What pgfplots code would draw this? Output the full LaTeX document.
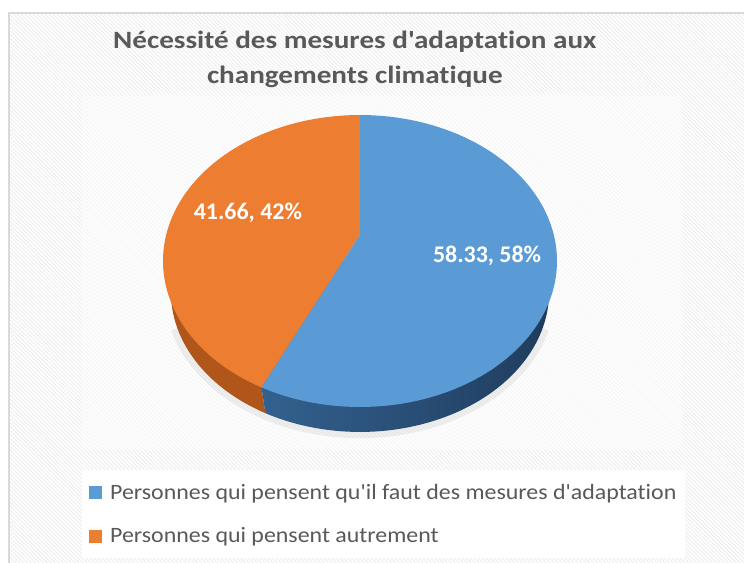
\documentclass[border=0pt]{standalone}
\usepackage{pgfplots}
\pgfplotsset{compat=1.18}
\usepackage{pgfplotstable}
\usepackage{fontspec}
\setmainfont{Carlito}
\newfontfamily\caltitle{Carlito}[Ligatures=NoCommon, FakeStretch=1.17]
\newfontfamily\callegend{Carlito}[Ligatures=NoCommon, FakeStretch=1.09]
\usetikzlibrary{patterns.meta}
\definecolor{pieblue}{HTML}{5B9BD5}
\definecolor{pieorange}{HTML}{ED7D31}
\definecolor{blueside}{HTML}{1F3B5C}
\definecolor{bluesideL}{HTML}{33618F}
\definecolor{orangeside}{HTML}{B0561B}
\definecolor{txtgray}{HTML}{595959}
\definecolor{framegray}{HTML}{D9D9D9}
\pgfplotstableread{
share value
oui 58.33
autre 41.66
}\piedata
\begin{document}
\begin{tikzpicture}
\useasboundingbox (0bp,0bp) rectangle (744bp,563bp);
\begin{scope}
\clip (0bp,0bp) rectangle (744bp,563bp);
\fill[white] (0bp,0bp) rectangle (744bp,563bp);
\fill[pattern={Lines[angle=-45,distance=2.8bp,line width=1.1bp]}, pattern color=black!6] (9bp,0bp) rectangle (744bp,550bp);
\fill[white, opacity=0.45] (82bp,113bp) rectangle (682bp,468bp);
\draw[framegray, line width=1.5bp] (9bp,-20bp) rectangle (770bp,550bp);
\end{scope}
\pgfplotstablegetelem{0}{value}\of\piedata \let\vA\pgfplotsretval
\pgfplotstablegetelem{1}{value}\of\piedata \let\vB\pgfplotsretval
\pgfmathsetmacro\angB{90+360*\vB/(\vA+\vB)}
\begin{axis}[
  at={(163bp,156bp)}, anchor=south west,
  width=394bp, height=292bp, scale only axis,
  xmin=-1, xmax=1, ymin=-1, ymax=1,
  hide axis, clip=false,
  title={Nécessité des mesures d'adaptation aux\\changements climatique},
  title style={at={(axis description cs:0.487,1.171)}, anchor=center, align=center,
    font=\caltitle\bfseries\fontsize{25}{35}\selectfont, text=txtgray},
  legend style={at={(axis description cs:-0.2056,-0.2158)}, anchor=north west,
    draw=none, fill=white, font=\callegend\fontsize{22}{26}\selectfont, text=txtgray,
    row sep=23bp, inner xsep=7bp, inner ysep=12bp},
  legend cell align=left,
]
% shadow
\addplot[forget plot, draw=black, draw opacity=0.06, line width=7bp, domain=195:345, samples=50, variable=\t]
  ({0.975*cos(\t)},{0.975*sin(\t)-0.215});
% sides
\addplot[forget plot, draw=none, fill=orangeside, domain=180:\angB, samples=40, variable=\t]
  ({0.96*cos(\t)},{0.96*sin(\t)-0.211}) -- ({cos(\angB)},{sin(\angB)}) -- (0,0) -- (-1,0) -- cycle;
\addplot[forget plot, draw=none, left color=bluesideL, right color=blueside, domain=\angB:360, samples=60, variable=\t]
  ({0.96*cos(\t)},{0.96*sin(\t)-0.211}) -- (1,0) -- (0,0) -- ({cos(\angB)},{sin(\angB)}) -- cycle;
% top faces
\addplot[forget plot, draw=none, fill=pieorange, domain=90:\angB, samples=80, variable=\t]
  ({cos(\t)},{sin(\t)}) -- (0,0.18) -- cycle;
\addplot[forget plot, draw=none, fill=pieblue, domain=\angB:450, samples=100, variable=\t]
  ({cos(\t)},{sin(\t)}) -- (0,0.18) -- cycle;
\node[font=\bfseries\fontsize{24}{28}\selectfont, text=white] at (axis cs:0.645,0.034) {58.33, 58\%};
\node[font=\bfseries\fontsize{24}{28}\selectfont, text=white] at (axis cs:-0.569,0.329) {41.66, 42\%};
\addlegendimage{legend image code/.code={\fill[pieblue, draw=none] (0bp,-6.5bp) rectangle (13bp,6.5bp); \path[draw=none, fill=none] (0bp,-1bp) rectangle (19bp,1bp);}}
\addlegendentry{Personnes qui pensent qu'il faut des mesures d'adaptation}
\addlegendimage{legend image code/.code={\fill[pieorange, draw=none] (0bp,-6.5bp) rectangle (13bp,6.5bp); \path[draw=none, fill=none] (0bp,-1bp) rectangle (19bp,1bp);}}
\addlegendentry{Personnes qui pensent autrement}
\end{axis}
\end{tikzpicture}
\end{document}
